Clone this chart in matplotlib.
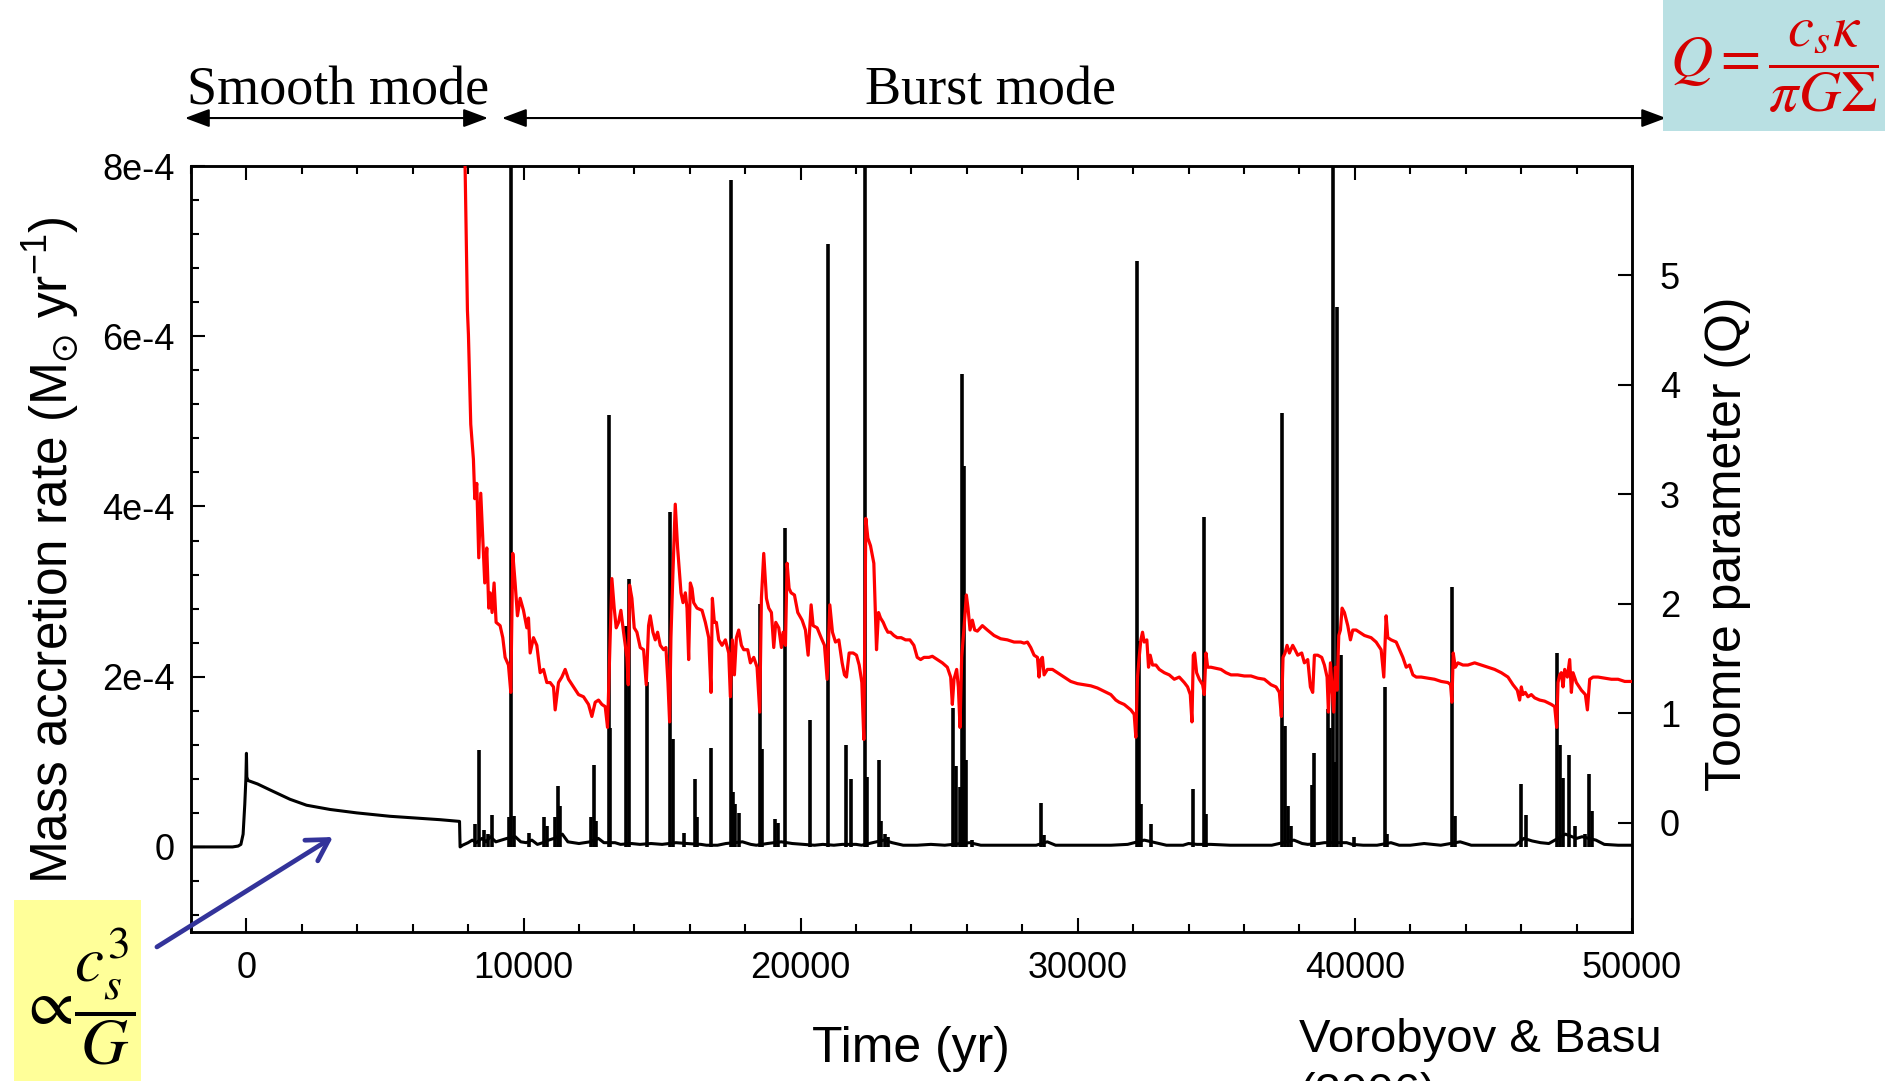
import matplotlib
matplotlib.use("Agg")
import matplotlib.pyplot as plt
from matplotlib.patches import FancyArrowPatch, Rectangle
from matplotlib.ticker import MultipleLocator

plt.rcParams['font.family'] = ['Liberation Sans', 'DejaVu Sans']
plt.rcParams['mathtext.fontset'] = 'custom'
plt.rcParams['mathtext.rm'] = 'Liberation Sans'
plt.rcParams['mathtext.it'] = 'Liberation Sans:italic'
plt.rcParams['mathtext.bf'] = 'Liberation Sans:bold'
plt.rcParams['mathtext.fallback'] = 'stixsans'

# ---------------- data ----------------
# accretion-rate baseline (time in yr, rate in 1e-4 Msun/yr)
acc_t = [-2000, -500, -300, -200, -120, -60, -20, 0, 15, 60, 400, 850, 1570, 2170, 3020,
         3980, 5180, 6990, 7690, 7710,
         7800, 8000, 8150, 8300, 8500, 8650, 8800, 9000, 9200, 9400, 9700, 9900, 10100,
         10300, 10500, 10700, 10900, 11100, 11400, 11600, 11800, 12000, 12200, 12400,
         12700, 12900, 13300, 13500, 13900, 14200, 14600, 15000, 15500, 15900, 16400,
         16600, 17000, 17300, 17900, 18200, 18400, 18800, 19300, 19700, 20100, 20500,
         20800, 21200, 21500, 22000, 22200, 22600, 23000, 23300, 23700, 24200, 24700,
         25200, 26100, 26500, 27000, 27500, 28000, 28500, 28900, 29200, 30000, 30600,
         31200, 31800, 32400, 32800, 33200, 33800, 34000, 34300, 34800, 35500, 36200,
         37000, 37800, 38100, 38300, 38700, 38900, 39700, 39900, 40300, 40800, 41300,
         41600, 42000, 42500, 43100, 43800, 44200, 44800, 45500, 45800, 46100, 46400,
         46700, 47000, 47600, 48000, 48200, 48700, 49000, 49500, 50000]
acc_v = [0, 0, 0.01, 0.03, 0.15, 0.5, 0.8, 1.1, 0.82, 0.78, 0.74, 0.67, 0.56, 0.49, 0.44,
         0.40, 0.36, 0.32, 0.30, 0.0,
         0.02, 0.05, 0.08, 0.05, 0.10, 0.06, 0.12, 0.06, 0.08, 0.10, 0.12, 0.06, 0.05,
         0.08, 0.03, 0.05, 0.08, 0.10, 0.15, 0.06, 0.05, 0.04, 0.05, 0.06,
         0.10, 0.05, 0.05, 0.03, 0.04, 0.03, 0.04, 0.03, 0.05, 0.04, 0.03,
         0.02, 0.02, 0.04, 0.06, 0.03, 0.02, 0.04, 0.06, 0.04, 0.03, 0.02,
         0.03, 0.02, 0.03, 0.03, 0.02, 0.05, 0.08, 0.05, 0.02, 0.02, 0.03,
         0.02, 0.05, 0.02, 0.02, 0.02, 0.02, 0.02, 0.06, 0.02, 0.02, 0.02,
         0.02, 0.03, 0.08, 0.05, 0.02, 0.02, 0.04, 0.03, 0.03, 0.02, 0.02,
         0.02, 0.08, 0.04, 0.03, 0.04, 0.05, 0.05, 0.03, 0.02, 0.02, 0.05,
         0.02, 0.02, 0.04, 0.02, 0.06, 0.02, 0.02, 0.02, 0.02, 0.10, 0.07,
         0.05, 0.04, 0.15, 0.10, 0.12, 0.08, 0.03, 0.02, 0.02]

# accretion bursts: time (yr) and peak rate (1e-4 Msun/yr); >8 is off-scale
burst_t = [8250, 8410, 8560, 8700, 8855, 9470, 9553, 9640, 10180, 10755, 10840, 11150,
           11230, 11300, 12450, 12530, 12600, 13070, 13120, 13700, 13800, 14450, 15275,
           15393, 15780, 16180, 16260, 16778, 17490, 17560, 17640, 17760, 18549, 18620,
           19090, 19180, 19452, 20332, 20995, 21645, 21802, 22318, 22400, 22823, 22900,
           23050, 23150, 25498, 25594, 25740, 25812, 25908, 25980, 26200, 28666, 28780,
           32123, 32195, 32280, 32636, 34146, 34566, 34640, 37373, 37481, 37580, 37690,
           38460, 38517, 39023, 39100, 39215, 39300, 39359, 39504, 39985, 41094, 41160,
           43504, 43600, 45985, 46190, 47298, 47400, 47495, 47736, 47929, 48300, 48454,
           48540]
burst_v = [0.27, 1.14, 0.20, 0.15, 0.37, 0.35, 10.0, 0.36, 0.16, 0.35, 0.25, 0.35,
           0.71, 0.48, 0.35, 0.96, 0.30, 5.07, 1.40, 2.60, 3.15, 1.94, 3.93,
           1.27, 0.16, 0.80, 0.35, 1.16, 7.84, 0.65, 0.50, 0.40, 2.86, 1.15,
           0.33, 0.28, 3.75, 1.49, 7.08, 1.20, 0.80, 10.0, 0.82, 1.02, 0.30,
           0.15, 0.12, 1.63, 0.95, 0.70, 5.56, 4.47, 1.02, 0.08, 0.52, 0.14,
           6.88, 2.42, 0.50, 0.27, 0.68, 3.88, 0.39, 5.10, 1.42, 0.48, 0.25,
           0.73, 1.10, 1.62, 1.40, 10.0, 1.00, 6.34, 2.25, 0.12, 1.88, 0.15,
           3.05, 0.36, 0.74, 0.37, 2.28, 1.20, 0.81, 1.08, 0.25, 0.15, 0.86,
           0.42]

# Toomre Q parameter
q_t = [7800, 7890, 7975, 8011, 8095, 8191, 8240, 8312, 8384, 8456, 8528, 8600, 8673,
       8745, 8793, 8865, 8937, 9010, 9154, 9251, 9335, 9455, 9540, 9612, 9696, 9780,
       9877, 9997, 10118, 10178, 10238, 10358, 10479, 10599, 10720, 10840, 10960,
       11081, 11141, 11261, 11382, 11502, 11623, 11803, 11984, 12164, 12345, 12465,
       12586, 12706, 12827, 12947, 13031, 13104, 13188, 13272, 13344, 13429, 13513,
       13609, 13730, 13778, 13826, 13910, 13994, 14091, 14211, 14332, 14428, 14512,
       14572, 14669, 14753, 14837, 14934, 15054, 15138, 15211, 15271, 15319, 15391,
       15475, 15560, 15682, 15755, 15839, 15899, 15959, 16019, 16080, 16140, 16260,
       16441, 16561, 16682, 16766, 16814, 16886, 16959, 17043, 17163, 17284, 17404,
       17464, 17536, 17609, 17681, 17765, 17862, 17946, 18090, 18187, 18307, 18427,
       18524, 18584, 18668, 18765, 18849, 18945, 19029, 19102, 19210, 19306, 19367,
       19451, 19511, 19583, 19655, 19776, 19896, 20053, 20173, 20270, 20378, 20450,
       20595, 20739, 20859, 20956, 21052, 21148, 21257, 21377, 21497, 21582, 21654,
       21750, 21895, 22015, 22112, 22208, 22280, 22352, 22425, 22521, 22641, 22738,
       22810, 22882, 22979, 23063, 23147, 23243, 23364, 23484, 23629, 23785, 23942,
       24086, 24207, 24330, 24451, 24631, 24752, 24932, 25113, 25293, 25414, 25474,
       25534, 25630, 25691, 25751, 25811, 25895, 25980, 26040, 26112, 26196, 26281,
       26377, 26558, 26738, 26979, 27220, 27461, 27701, 27822, 27942, 28063, 28183,
       28303, 28424, 28544, 28604, 28665, 28725, 28785, 28905, 29086, 29267, 29507,
       29748, 29989, 30230, 30471, 30711, 30952, 31193, 31373, 31494, 31675, 31915,
       32036, 32096, 32156, 32216, 32277, 32337, 32397, 32493, 32554, 32614, 32698,
       32821, 32941, 33122, 33302, 33483, 33663, 33844, 33964, 34061, 34121, 34169,
       34217, 34289, 34386, 34506, 34566, 34627, 34687, 34807, 34988, 35168, 35349,
       35530, 35770, 36011, 36252, 36493, 36734, 36974, 37155, 37275, 37348, 37408,
       37480, 37552, 37637, 37757, 37841, 37938, 38082, 38178, 38299, 38395, 38479,
       38540, 38660, 38804, 38901, 38997, 39045, 39118, 39178, 39238, 39298, 39358,
       39419, 39479, 39539, 39623, 39744, 39840, 39924, 40045, 40165, 40346, 40586,
       40767, 40948, 41044, 41128, 41188, 41309, 41492, 41612, 41732, 41853, 41973,
       42094, 42214, 42395, 42635, 42876, 43117, 43358, 43454, 43502, 43550, 43623,
       43719, 43900, 44080, 44321, 44562, 44803, 45043, 45284, 45525, 45706, 45862,
       45946, 46007, 46067, 46151, 46247, 46368, 46488, 46669, 46849, 47090, 47211,
       47283, 47331, 47391, 47451, 47512, 47572, 47668, 47752, 47813, 47873, 47993,
       48174, 48318, 48391, 48475, 48595, 48776, 49017, 49257, 49498, 49739, 50004]
q_v = [6.4, 6.0, 4.68, 4.46, 3.64, 3.32, 2.96, 3.10, 2.42, 3.01, 2.60, 2.19, 2.51,
       1.96, 2.10, 1.92, 2.19, 1.83, 1.80, 1.69, 1.51, 1.44, 1.19, 2.46, 2.19, 1.89,
       2.05, 1.94, 1.78, 1.87, 1.55, 1.69, 1.62, 1.37, 1.40, 1.28, 1.28,
       1.24, 1.03, 1.28, 1.33, 1.40, 1.31, 1.24, 1.17, 1.15, 1.08, 0.97,
       1.10, 1.12, 1.08, 1.06, 0.87, 1.51, 2.23, 1.96, 1.78, 1.83, 1.94,
       1.74, 1.51, 1.26, 2.17, 2.05, 1.78, 1.74, 1.60, 1.58, 1.26, 1.80,
       1.89, 1.74, 1.67, 1.74, 1.62, 1.58, 1.60, 1.28, 0.92, 1.69, 2.28,
       2.91, 2.51, 2.10, 2.01, 2.10, 1.96, 1.49, 2.19, 2.14, 2.01, 1.96,
       1.94, 1.83, 1.69, 1.19, 2.05, 1.83, 1.83, 1.67, 1.62, 1.67, 1.55,
       1.15, 1.67, 1.35, 1.69, 1.76, 1.62, 1.58, 1.58, 1.46, 1.51, 1.42,
       1.01, 2.05, 2.46, 2.05, 1.96, 1.92, 1.60, 1.83, 1.78, 1.60, 1.74,
       1.62, 2.37, 2.14, 2.10, 2.08, 1.92, 1.85, 1.76, 1.53, 1.99, 1.80,
       1.78, 1.69, 1.62, 1.31, 1.99, 1.74, 1.65, 1.67, 1.46, 1.35, 1.33,
       1.55, 1.55, 1.53, 1.44, 1.28, 0.76, 2.78, 2.60, 2.53, 2.37, 1.58,
       1.92, 1.87, 1.83, 1.78, 1.74, 1.74, 1.71, 1.69, 1.69, 1.67, 1.67,
       1.62, 1.51, 1.49, 1.51, 1.51, 1.52, 1.49, 1.46, 1.42, 1.33, 1.08,
       1.31, 1.40, 1.24, 0.87, 1.51, 1.78, 2.08, 1.96, 1.76, 1.85, 1.76,
       1.75, 1.80, 1.76, 1.71, 1.68, 1.67, 1.65, 1.65, 1.65, 1.64, 1.65,
       1.60, 1.53, 1.51, 1.33, 1.49, 1.51, 1.35, 1.40, 1.40, 1.37, 1.33,
       1.29, 1.27, 1.26, 1.25, 1.23, 1.20, 1.17, 1.12, 1.10, 1.08, 1.03,
       0.99, 0.78, 1.33, 1.51, 1.67, 1.74, 1.65, 1.67, 1.42, 1.53, 1.44,
       1.44, 1.40, 1.37, 1.35, 1.31, 1.33, 1.28, 1.24, 1.17, 0.92, 1.53,
       1.55, 1.37, 1.31, 1.26, 1.17, 1.55, 1.42, 1.42, 1.41, 1.40, 1.37,
       1.35, 1.35, 1.34, 1.34, 1.32, 1.31, 1.26, 1.24, 1.19, 0.97, 1.51,
       1.55, 1.62, 1.55, 1.62, 1.58, 1.53, 1.55, 1.46, 1.49, 1.24, 1.19,
       1.53, 1.53, 1.51, 1.44, 1.33, 1.01, 1.46, 1.24, 1.01, 1.42, 1.21,
       1.71, 1.76, 1.96, 1.92, 1.80, 1.67, 1.76, 1.76, 1.74, 1.71, 1.69,
       1.65, 1.58, 1.33, 1.89, 1.69, 1.67, 1.65, 1.58, 1.51, 1.42, 1.44,
       1.35, 1.33, 1.33, 1.32, 1.31, 1.29, 1.28, 1.26, 1.10, 1.55, 1.42,
       1.46, 1.44, 1.44, 1.46, 1.44, 1.42, 1.40, 1.37, 1.33, 1.26, 1.21,
       1.12, 1.24, 1.17, 1.19, 1.15, 1.17, 1.14, 1.12, 1.11, 1.08, 1.06,
       0.87, 1.28, 1.35, 1.37, 1.24, 1.40, 1.33, 1.49, 1.19, 1.37, 1.28,
       1.21, 1.17, 1.03, 1.31, 1.33, 1.33, 1.32, 1.31, 1.31, 1.29, 1.29]

acc_ticks = [0, 2e-4, 4e-4, 6e-4, 8e-4]
acc_ticklabels = ['0', '2e-4', '4e-4', '6e-4', '8e-4']
q_ticks = [0, 1, 2, 3, 4, 5]
q_ticklabels = ['0', '1', '2', '3', '4', '5']
time_ticks = [0, 10000, 20000, 30000, 40000, 50000]
time_ticklabels = ['0', '10000', '20000', '30000', '40000', '50000']

SCALE = 1e-4

# ---------------- figure ----------------
fig = plt.figure(figsize=(18.95, 10.81), dpi=100)
ax = fig.add_axes([0.1008, 0.1378, 0.7604, 0.7086])
ax2 = ax.twinx()

ax.plot(acc_t, [v * SCALE for v in acc_v], color='black', lw=2.2, zorder=3)
ax.vlines(burst_t, 0, [v * SCALE for v in burst_v], color='black', lw=2.6, zorder=3)
ax2.plot(q_t, q_v, color='#ff0000', lw=2.3, zorder=4)

ax.set_xlim(-2000, 50000)
ax.set_ylim(-1e-4, 8e-4)
ax2.set_ylim(-1, 6)

ax.set_xticks(time_ticks, time_ticklabels)
ax.set_yticks(acc_ticks, acc_ticklabels)
ax.xaxis.set_minor_locator(MultipleLocator(2000))
ax.yaxis.set_minor_locator(MultipleLocator(0.4e-4))
ax2.set_yticks(q_ticks, q_ticklabels)

ax.tick_params(axis='both', which='both', direction='in', top=True, right=False,
               width=1.5, labelsize=26)
ax.tick_params(which='major', length=10)
ax.tick_params(which='minor', length=5.5)
ax.tick_params(axis='y', pad=12)
ax.tick_params(axis='x', pad=14)
ax2.tick_params(axis='y', direction='in', length=10, width=1.5, labelsize=26, pad=20)

for a in (ax, ax2):
    for s in a.spines.values():
        s.set_linewidth(1.8)

# axis labels
fig.text(0.027, 0.491, r'Mass accretion rate (M$_{\odot}$ yr$^{-1}$)', rotation=90,
         ha='center', va='center', fontsize=37)
fig.text(0.9119, 0.4968, 'Toomre parameter (Q)', rotation=90,
         ha='center', va='center', fontsize=36)
fig.text(0.4805, 0.0296, 'Time (yr)', ha='center', va='center', fontsize=36)
fig.text(0.6855, 0.0583, 'Vorobyov & Basu\n(2006)', ha='left', va='top', fontsize=34,
         linespacing=1.3)

# mode annotations
fig.text(0.1784, 0.9029, 'Smooth mode', ha='center', va='baseline', fontsize=39,
         family='Liberation Serif')
fig.text(0.5226, 0.9029, 'Burst mode', ha='center', va='baseline', fontsize=39,
         family='Liberation Serif')
for x0, x1 in [(0.0976, 0.2575), (0.2649, 0.8792)]:
    fig.add_artist(FancyArrowPatch((x0, 0.8908), (x1, 0.8908), transform=fig.transFigure,
                                   arrowstyle='<|-|>,head_length=0.75,head_width=0.28',
                                   mutation_scale=20, color='black', lw=1.5,
                                   shrinkA=0, shrinkB=0))

# formula boxes
fig.add_artist(Rectangle((0.8776, 0.8788), 0.1172, 0.1212, transform=fig.transFigure,
                         facecolor='#b9e0e3', edgecolor='none'))
fig.text(0.9362, 0.938, r'$Q=\dfrac{c_s\kappa}{\pi G\Sigma}$', ha='center', va='center',
         fontsize=42, color='#d40000', math_fontfamily='stix')

fig.add_artist(Rectangle((0.0074, 0.0), 0.067, 0.1675, transform=fig.transFigure,
                         facecolor='#ffff99', edgecolor='none'))
fig.text(0.0409, 0.078, r'$\propto\!\dfrac{c_s^3}{G}$', ha='center', va='center',
         fontsize=47, color='black', math_fontfamily='stix')

fig.add_artist(FancyArrowPatch((0.0828, 0.124), (0.1757, 0.2257), transform=fig.transFigure,
                               arrowstyle='->,head_length=0.6,head_width=0.35',
                               mutation_scale=25, color='#33339a', lw=3.4,
                               shrinkA=0, shrinkB=0))

fig.savefig('out.png', dpi=100)
